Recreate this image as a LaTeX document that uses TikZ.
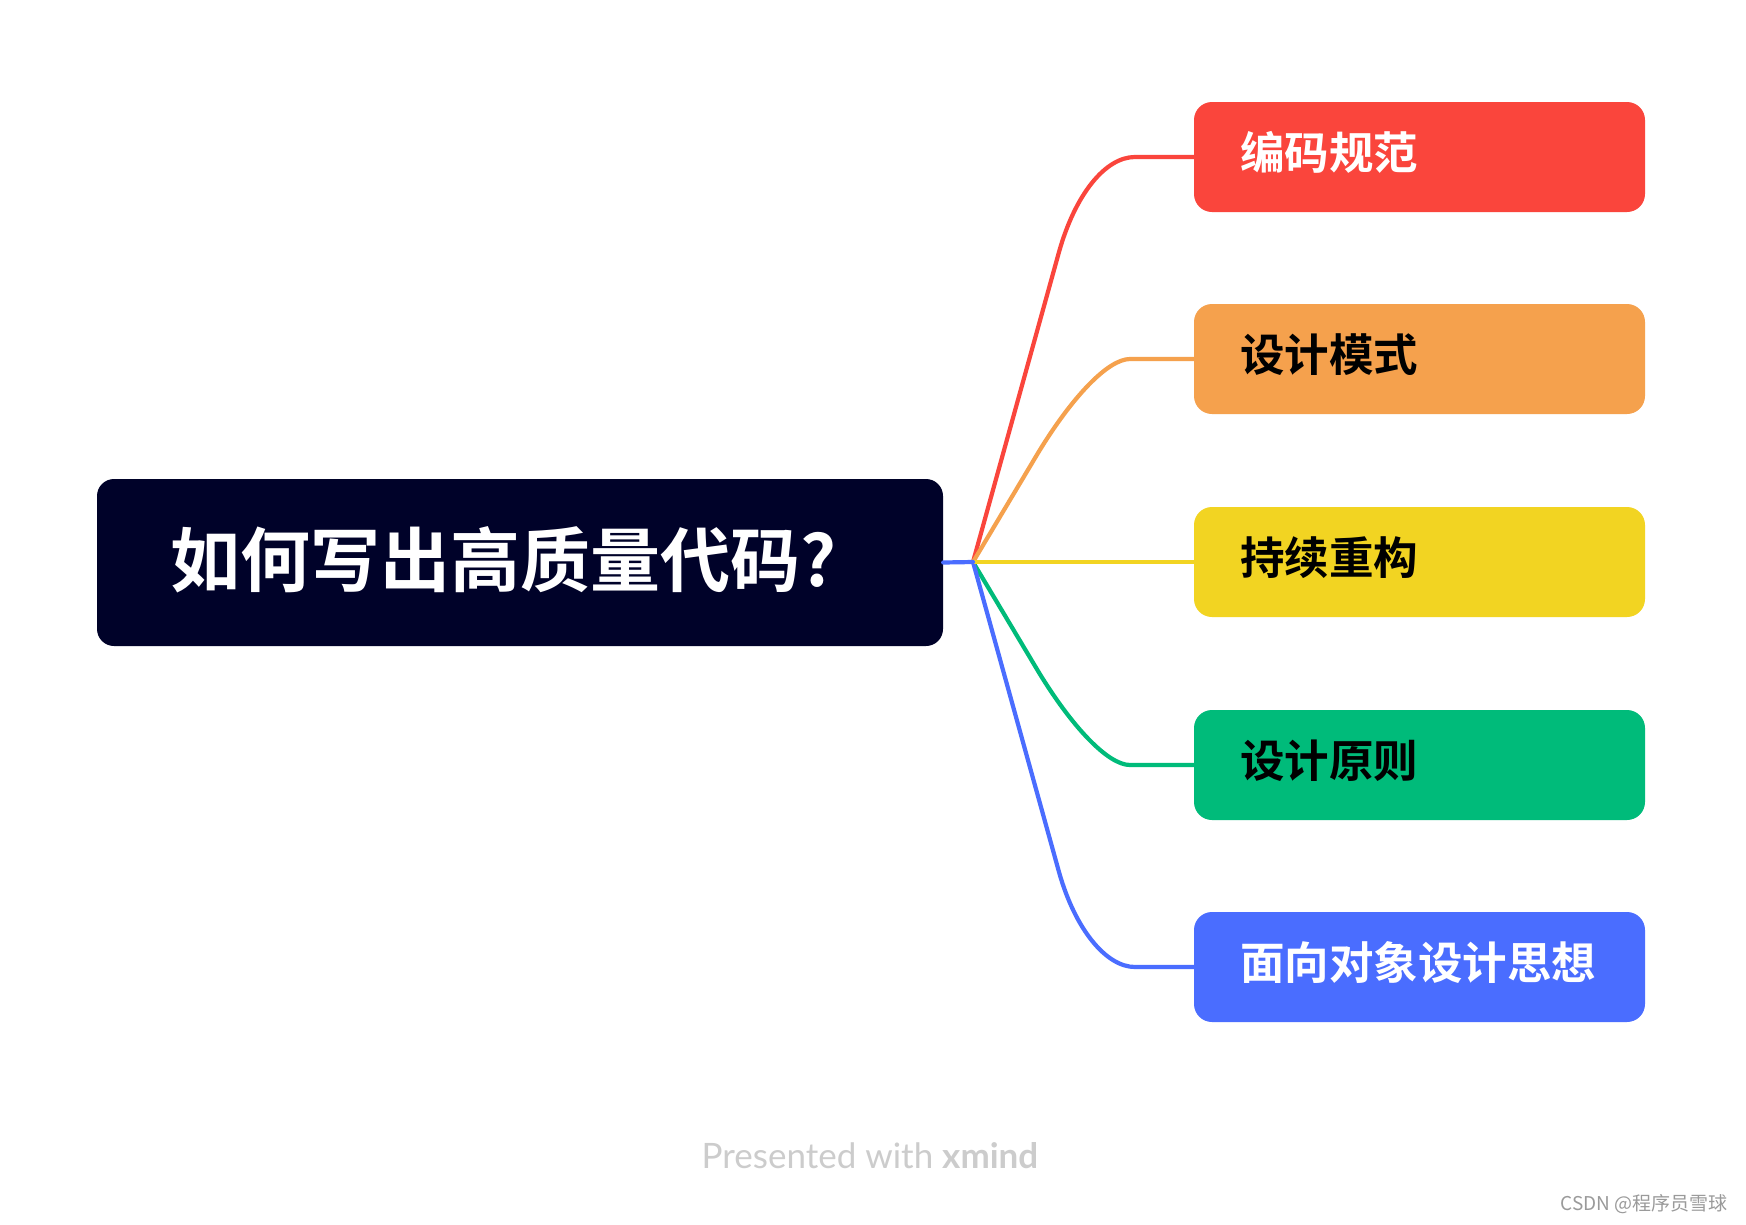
\documentclass[tikz,border=0pt]{standalone}
\usepackage{fontspec}
\newfontfamily\cjk{Noto Sans CJK SC}[BoldFont={Noto Sans CJK SC Bold}]
\newfontfamily\lato{Lato}
\definecolor{cnavy}{HTML}{000229}
\definecolor{cred}{HTML}{FA453C}
\definecolor{corange}{HTML}{F5A14D}
\definecolor{cyellow}{HTML}{F2D422}
\definecolor{cgreen}{HTML}{00BB7A}
\definecolor{cblue}{HTML}{4A6DFF}
\definecolor{cfoot}{HTML}{CCCCCC}
\definecolor{cmark}{HTML}{9A9A9A}
\begin{document}
\begin{tikzpicture}[x=1pt,y=-1pt,
  rootbox/.style={rectangle, rounded corners=17pt, fill=cnavy, text=white,
    minimum width=846pt, minimum height=167pt, inner xsep=73pt, inner ysep=0pt,
    text width=700pt, align=left, text height=62pt, text depth=14pt,
    font=\cjk\bfseries\fontsize{70}{78}\selectfont},
  branchbox/.style={rectangle, rounded corners=18pt,
    minimum width=451pt, minimum height=110pt, inner xsep=46pt, inner ysep=0pt,
    text width=359pt, align=left, text height=39pt, text depth=15pt,
    font=\cjk\bfseries\fontsize{44.5}{50}\selectfont},
  conn/.style={line width=4.2pt, line cap=round, line join=round}]
\useasboundingbox (0,0) rectangle (1746,1224);
\fill[white] (0,0) rectangle (1746,1224);

\node[rootbox] (root) at (520,562.5) {如何写出高质量代码?};
\coordinate (j) at (973,562);

\node[branchbox, fill=cred, text=white] (b1) at (1419.5,157) {编码规范};
\node[branchbox, fill=corange, text=black] (b2) at (1419.5,359) {设计模式};
\node[branchbox, fill=cyellow, text=black] (b3) at (1419.5,562) {持续重构};
\node[branchbox, fill=cgreen, text=black] (b4) at (1419.5,765) {设计原则};
\node[branchbox, fill=cblue, text=white] (b5) at (1419.5,967) {面向对象设计思想};

\draw[conn, cred] (j) -- (1059,252) .. controls (1075,195) and (1105,157) .. (1135,157) -- (b1.west);
\draw[conn, corange] (j) -- (1038,453) .. controls (1072,397) and (1108,359) .. (1130,359) -- (b2.west);
\draw[conn, cgreen] (j) -- (1038,671) .. controls (1072,727) and (1108,765) .. (1130,765) -- (b4.west);
\draw[conn, cblue] (j) -- (1059,872) .. controls (1075,929) and (1106,967) .. (1135,967) -- (b5.west);
\draw[conn, cyellow] (j) -- (b3.west);
\draw[conn, cblue] (root.east) -- (j);

\node[text=cfoot, font=\lato\fontsize{35}{40}\selectfont, anchor=base] (foot) at (870,1168) {Presented with \textbf{xmind}};
\node[text=cmark, font=\cjk\fontsize{19}{21}\selectfont, anchor=base east] (mark) at (1731,1210) {CSDN @程序员雪球};
\end{tikzpicture}
\end{document}
